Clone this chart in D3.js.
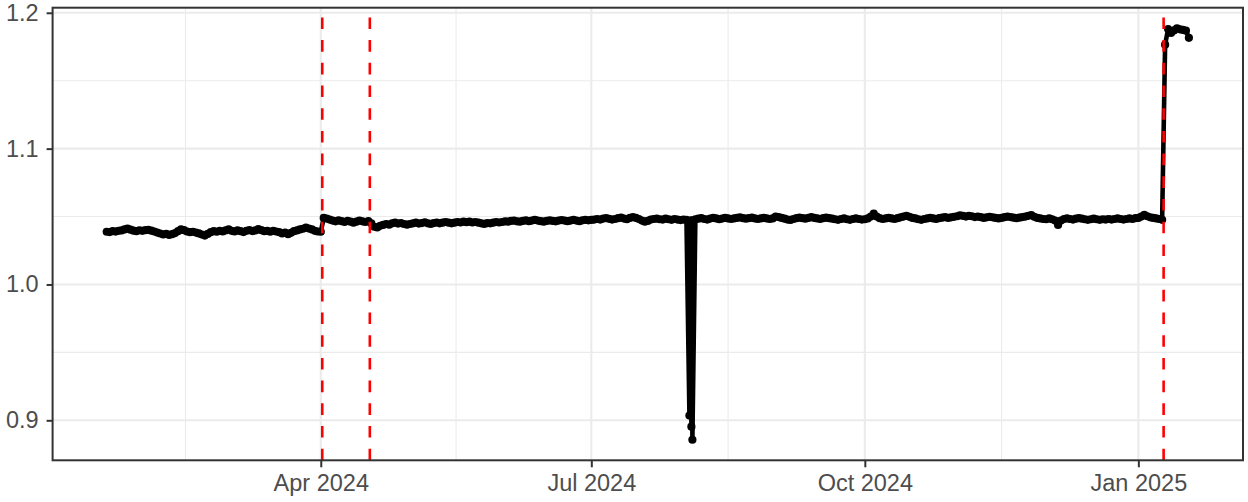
<!DOCTYPE html>
<html>
<head>
<meta charset="utf-8">
<script src="https://cdn.jsdelivr.net/npm/d3@7"></script>
<style>
  html, body { margin: 0; padding: 0; background: #ffffff; }
  svg { display: block; }
  text { font-family: "Liberation Sans", Arial, Helvetica, sans-serif; }
</style>
</head>
<body>
<svg id="chart" width="1248" height="502"></svg>
<script>
// ---------------- DATA ----------------
const seriesStart = "2024-01-20"; // first daily observation
const jan2024 = [1.0388,1.0386,1.0392,1.0389,1.0395,1.0398,1.0405,1.0412,1.0403,1.0396,1.0392,1.0399];
const feb2024 = [1.0395,1.0400,1.0402,1.0396,1.0390,1.0382,1.0375,1.0368,1.0372,1.0365,1.0370,1.0378,1.0392,1.0405,1.0400,1.0390,1.0385,1.0388,1.0382,1.0376,1.0368,1.0360,1.0372,1.0385,1.0392,1.0388,1.0395,1.0390,1.0398];
const mar2024 = [1.0405,1.0395,1.0390,1.0398,1.0392,1.0386,1.0395,1.0400,1.0393,1.0398,1.0408,1.0400,1.0392,1.0395,1.0388,1.0395,1.0390,1.0385,1.0375,1.0382,1.0370,1.0380,1.0392,1.0398,1.0405,1.0410,1.0418,1.0412,1.0405,1.0395,1.0390];
const apr2024 = [1.0388,1.0490,1.0485,1.0478,1.0470,1.0465,1.0472,1.0466,1.0460,1.0468,1.0462,1.0455,1.0462,1.0470,1.0465,1.0460,1.0466,1.0450,1.0425,1.0420,1.0432,1.0438,1.0445,1.0440,1.0450,1.0455,1.0448,1.0452,1.0445,1.0440];
const may2024 = [1.0445,1.0450,1.0455,1.0448,1.0452,1.0458,1.0450,1.0446,1.0452,1.0456,1.0450,1.0455,1.0460,1.0455,1.0450,1.0455,1.0460,1.0456,1.0462,1.0458,1.0462,1.0456,1.0460,1.0455,1.0450,1.0446,1.0452,1.0450,1.0455,1.0460,1.0456];
const jun2024 = [1.0460,1.0465,1.0462,1.0468,1.0470,1.0465,1.0462,1.0468,1.0472,1.0466,1.0470,1.0475,1.0470,1.0466,1.0462,1.0468,1.0472,1.0468,1.0465,1.0470,1.0474,1.0470,1.0466,1.0470,1.0475,1.0470,1.0466,1.0472,1.0476,1.0472];
const jul2024 = [1.0475,1.0478,1.0482,1.0478,1.0485,1.0488,1.0483,1.0478,1.0482,1.0488,1.0492,1.0485,1.0480,1.0490,1.0496,1.0490,1.0482,1.0470,1.0462,1.0468,1.0478,1.0482,1.0485,1.0480,1.0478,1.0484,1.0480,1.0476,1.0482,1.0478,1.0474];
const aug2024 = [1.0478,1.0476,0.9035,0.8857,1.0480,1.0484,1.0488,1.0482,1.0478,1.0485,1.0490,1.0486,1.0480,1.0485,1.0490,1.0486,1.0482,1.0486,1.0490,1.0494,1.0488,1.0484,1.0488,1.0492,1.0486,1.0482,1.0486,1.0490,1.0486,1.0482,1.0486];
const sep2024 = [1.0500,1.0496,1.0490,1.0484,1.0478,1.0475,1.0482,1.0488,1.0492,1.0488,1.0484,1.0490,1.0495,1.0490,1.0486,1.0482,1.0488,1.0492,1.0488,1.0484,1.0480,1.0476,1.0482,1.0486,1.0480,1.0476,1.0482,1.0486,1.0482,1.0478];
const oct2024 = [1.0480,1.0486,1.0500,1.0522,1.0500,1.0488,1.0482,1.0486,1.0490,1.0486,1.0482,1.0488,1.0494,1.0500,1.0505,1.0498,1.0490,1.0486,1.0480,1.0476,1.0482,1.0486,1.0490,1.0486,1.0482,1.0488,1.0492,1.0496,1.0490,1.0494,1.0498];
const nov2024 = [1.0502,1.0508,1.0505,1.0500,1.0505,1.0502,1.0496,1.0500,1.0495,1.0490,1.0494,1.0498,1.0494,1.0490,1.0486,1.0490,1.0495,1.0500,1.0496,1.0492,1.0488,1.0492,1.0496,1.0500,1.0505,1.0510,1.0498,1.0490,1.0486,1.0482];
const dec2024 = [1.0480,1.0486,1.0480,1.0470,1.0438,1.0470,1.0482,1.0486,1.0482,1.0478,1.0484,1.0488,1.0484,1.0480,1.0476,1.0480,1.0484,1.0480,1.0476,1.0480,1.0478,1.0482,1.0478,1.0482,1.0486,1.0482,1.0478,1.0482,1.0486,1.0482,1.0488];
const jan2025 = [1.0490,1.0500,1.0512,1.0502,1.0494,1.0490,1.0486,1.0482,1.0476,1.1765,1.1880,1.1852,1.1870,1.1886,1.1878,1.1874,1.1868,1.1816];
// extra intraday readings during the August drop
const extraDates  = ["2024-08-03T08:00:00Z", "2024-08-03T16:00:00Z", "2024-08-03T20:00:00Z"];
const extraValues = [1.0470, 0.8953, 1.0472];
// dashed reference lines
const eventDates = ["2024-04-01T12:00:00Z", "2024-04-17T12:00:00Z", "2025-01-09T12:00:00Z"];
// axes
const xTickDates  = ["2024-04-01", "2024-07-01", "2024-10-01", "2025-01-01"];
const xTickLabels = ["Apr 2024", "Jul 2024", "Oct 2024", "Jan 2025"];
const xMinorDates = ["2024-02-15T12:00:00Z", "2024-05-16T12:00:00Z", "2024-08-16T00:00:00Z", "2024-11-16T00:00:00Z"];
const yTicks      = [0.9, 1.0, 1.1, 1.2];
const yTickLabels = ["0.9", "1.0", "1.1", "1.2"];
const yMinor      = [0.95, 1.05, 1.15];

// ---------------- BUILD SERIES ----------------
const allValues = [].concat(jan2024, feb2024, mar2024, apr2024, may2024, jun2024, jul2024,
                            aug2024, sep2024, oct2024, nov2024, dec2024, jan2025);
const start = new Date(seriesStart + "T00:00:00Z");
let data = allValues.map((v, i) => ({ date: d3.utcDay.offset(start, i), value: v }));
extraDates.forEach((d, i) => data.push({ date: new Date(d), value: extraValues[i] }));
data.sort((a, b) => a.date - b.date);

// ---------------- LAYOUT ----------------
const panel = { left: 52.6, right: 1243, top: 7.7, bottom: 460.3 };
const svg = d3.select("#chart");

const xExt = d3.extent(data, d => d.date);
const xPad = (xExt[1] - xExt[0]) * 0.05;
const x = d3.scaleUtc()
  .domain([new Date(+xExt[0] - xPad), new Date(+xExt[1] + xPad)])
  .range([panel.left, panel.right]);

const yExt = d3.extent(data, d => d.value);
const yPad = (yExt[1] - yExt[0]) * 0.05;
const y = d3.scaleLinear()
  .domain([yExt[0] - yPad, yExt[1] + yPad])
  .range([panel.bottom, panel.top]);

const parse = s => new Date(s.length === 10 ? s + "T00:00:00Z" : s);

// background
svg.append("rect").attr("x", panel.left).attr("y", panel.top)
  .attr("width", panel.right - panel.left).attr("height", panel.bottom - panel.top)
  .attr("fill", "#ffffff");

const grid = svg.append("g");
// minor grid
grid.selectAll(".vminor").data(xMinorDates).join("line")
  .attr("x1", d => x(parse(d))).attr("x2", d => x(parse(d)))
  .attr("y1", panel.top).attr("y2", panel.bottom)
  .attr("stroke", "#EBEBEB").attr("stroke-width", 1.1);
grid.selectAll(".hminor").data(yMinor).join("line")
  .attr("x1", panel.left).attr("x2", panel.right)
  .attr("y1", d => y(d)).attr("y2", d => y(d))
  .attr("stroke", "#EBEBEB").attr("stroke-width", 1.1);
// major grid
grid.selectAll(".vmajor").data(xTickDates).join("line")
  .attr("x1", d => x(parse(d))).attr("x2", d => x(parse(d)))
  .attr("y1", panel.top).attr("y2", panel.bottom)
  .attr("stroke", "#EBEBEB").attr("stroke-width", 2.1);
grid.selectAll(".hmajor").data(yTicks).join("line")
  .attr("x1", panel.left).attr("x2", panel.right)
  .attr("y1", d => y(d)).attr("y2", d => y(d))
  .attr("stroke", "#EBEBEB").attr("stroke-width", 2.1);

// clip
svg.append("clipPath").attr("id", "clip").append("rect")
  .attr("x", panel.left).attr("y", panel.top)
  .attr("width", panel.right - panel.left).attr("height", panel.bottom - panel.top);

const plot = svg.append("g").attr("clip-path", "url(#clip)");

// line
const line = d3.line().x(d => x(d.date)).y(d => y(d.value));
plot.append("path").datum(data)
  .attr("d", line)
  .attr("fill", "none").attr("stroke", "#000000")
  .attr("stroke-width", 4.6).attr("stroke-linejoin", "round");

// points
plot.selectAll("circle").data(data).join("circle")
  .attr("cx", d => x(d.date)).attr("cy", d => y(d.value))
  .attr("r", 4.1).attr("fill", "#000000");

// dashed event lines (drawn bottom -> top so dashes start at the bottom)
plot.selectAll(".event").data(eventDates).join("line")
  .attr("x1", d => x(parse(d))).attr("x2", d => x(parse(d)))
  .attr("y1", panel.bottom).attr("y2", panel.top)
  .attr("stroke", "#FF0000").attr("stroke-width", 2.6)
  .attr("stroke-dasharray", "11.6 11.1");

// panel border
svg.append("rect").attr("x", panel.left).attr("y", panel.top)
  .attr("width", panel.right - panel.left).attr("height", panel.bottom - panel.top)
  .attr("fill", "none").attr("stroke", "#333333").attr("stroke-width", 2);

// x axis
const xAxis = d3.axisBottom(x)
  .tickValues(xTickDates.map(parse))
  .tickFormat((d, i) => xTickLabels[i])
  .tickSize(7).tickPadding(7);
const gx = svg.append("g").attr("transform", `translate(0,${panel.bottom})`).call(xAxis);
gx.select(".domain").remove();
gx.selectAll(".tick line").attr("stroke", "#333333").attr("stroke-width", 2);
gx.selectAll(".tick text").attr("fill", "#4D4D4D").attr("font-size", 23.5)
  .attr("font-family", "'Liberation Sans', Arial, sans-serif");

// y axis
const yAxis = d3.axisLeft(y)
  .tickValues(yTicks)
  .tickFormat((d, i) => yTickLabels[i])
  .tickSize(6).tickPadding(8);
const gy = svg.append("g").attr("transform", `translate(${panel.left},0)`).call(yAxis);
gy.select(".domain").remove();
gy.selectAll(".tick line").attr("stroke", "#333333").attr("stroke-width", 2);
gy.selectAll(".tick text").attr("fill", "#4D4D4D").attr("font-size", 23.5)
  .attr("font-family", "'Liberation Sans', Arial, sans-serif");
</script>
</body>
</html>
